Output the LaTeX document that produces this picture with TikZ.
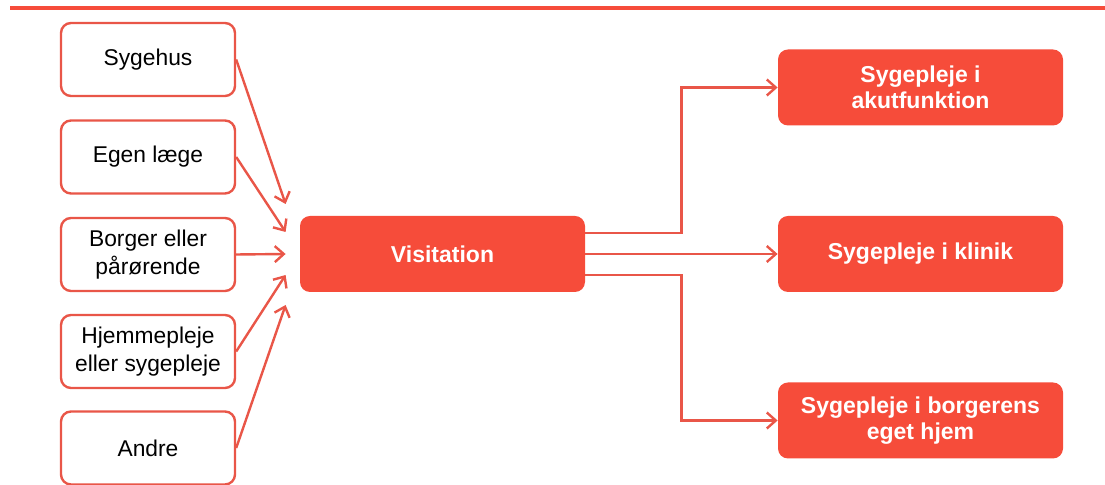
\documentclass[tikz,border=0pt]{standalone}
\usepackage{fontspec}
\setmainfont{Liberation Sans}
\usetikzlibrary{arrows.meta}
\definecolor{visred}{RGB}{246,76,58}
\definecolor{visline}{RGB}{233,86,72}

\begin{document}
\begin{tikzpicture}[x=0.5pt, y=-0.5pt,
    source/.style={draw=visline, line width=1.2pt, fill=white, rounded corners=5pt,
        minimum width=87pt, minimum height=36.5pt, inner sep=0pt, align=center,
        font=\fontsize{11.4}{14}\selectfont},
    target/.style={fill=visred, rounded corners=5pt, minimum width=142.5pt,
        minimum height=38pt, inner sep=0pt, align=center, text=white,
        font=\bfseries\fontsize{11.5}{13}\selectfont},
    link/.style={draw=visline, line width=1.2pt, -{Straight Barb[length=4.5pt,width=8pt]}}]
    % Frame (pixel units, y down)
    \useasboundingbox (0, 0) rectangle (1105, 485);
    \draw[visred, line width=2pt] (10, 7.75) -- (1105, 7.75);

    % Sources on the left
    \foreach \name/\y/\txt in {sygehus/59.5/Sygehus, laege/157/Egen læge,
        borger/254.5/{Borger eller\\pårørende}, hjemmepleje/351.5/{Hjemmepleje\\eller sygepleje},
        andre/448/Andre} {
        \node[source] (\name) at (148, \y) {\txt};
    }

    % Visitation in the middle
    \node[target] (vis) at (442.5, 254) {Visitation};

    % Offers on the right
    \node[target] (akut) at (920.5, 87.5) {Sygepleje i\\akutfunktion};
    \node[target] (klinik) at (920.5, 254) {Sygepleje i klinik};
    \node[target] (eget) at (920.5, 420.5) {Sygepleje i borgerens\\eget hjem};

    % Arrows into visitation
    \foreach \name/\dy in {sygehus/25, laege/11, borger/0, hjemmepleje/-10.5, andre/-25.5} {
        \draw[link] (\name.east) -- ([xshift=-7pt, yshift=\dy pt]vis.west);
    }

    % Arrows out of visitation
    \draw[link] ([yshift=10.5pt]vis.east) -| ([xshift=-48pt]akut.west) -- (akut.west);
    \draw[link] (vis.east) -- (klinik.west);
    \draw[link] ([yshift=-10.5pt]vis.east) -| ([xshift=-48pt]eget.west) -- (eget.west);
\end{tikzpicture}
\end{document}
